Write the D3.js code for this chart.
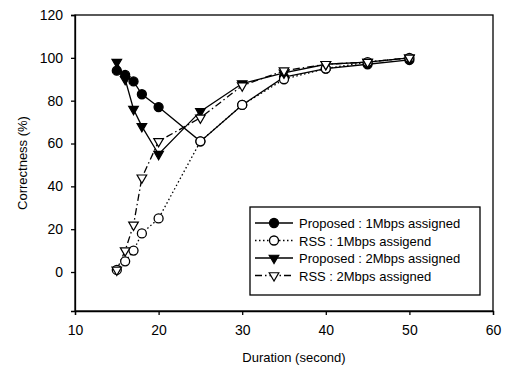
<!DOCTYPE html>
<html>
<head>
<meta charset="utf-8">
<script src="https://cdn.jsdelivr.net/npm/d3@7"></script>
<style>
  body { margin: 0; background: #fff; }
  svg { font-family: "Liberation Sans", Arial, sans-serif; }
</style>
</head>
<body>
<svg id="chart" width="505" height="371"></svg>
<script>
// durations (s)
const durations = [15, 16, 17, 18, 20, 25, 30, 35, 40, 45, 50];

// correctness (%) per series
const proposed1 = [94, 92, 89, 83, 77, 61, 78, 91, 95, 97, 99];
const rss1 = [1, 5, 10, 18, 25, 61, 78, 90, 95, 98, 100];
const proposed2 = [98, 90, 76, 68, 55, 75, 88, 93, 97, 98, 100];
const rss2 = [1, 10, 22, 44, 61, 72, 87, 94, 97, 98, 100];

const xTicks = [10, 20, 30, 40, 50, 60];
const yTicks = [0, 20, 40, 60, 80, 100, 120];

const seriesNames = [
    "Proposed : 1Mbps assigned",
    "RSS : 1Mbps assigend",
    "Proposed : 2Mbps assigned",
    "RSS : 2Mbps assigned"
];

const series = [
    { name: seriesNames[0], values: proposed1, marker: "circle", fill: "#000", dash: null },
    { name: seriesNames[1], values: rss1, marker: "circle", fill: "#fff", dash: "1.5,2.5" },
    { name: seriesNames[2], values: proposed2, marker: "tri", fill: "#000", dash: null },
    { name: seriesNames[3], values: rss2, marker: "tri", fill: "#fff", dash: "7,3,1.5,3" }
];

const svg = d3.select("#chart");
const margin = { top: 15, right: 12, bottom: 60, left: 75 };
const width = 505 - margin.left - margin.right;
const height = 371 - margin.top - margin.bottom;

const g = svg.append("g").attr("transform", "translate(" + margin.left + "," + margin.top + ")");

const x = d3.scaleLinear().domain([10, 60]).range([0, width]);
const y = d3.scaleLinear().domain([-18.2, 120]).range([height, 0]);

// frame
g.append("rect")
    .attr("width", width).attr("height", height)
    .attr("fill", "none").attr("stroke", "#000").attr("stroke-width", 1.3);

let xAxis = g.append("g")
    .attr("transform", "translate(0," + height + ")")
    .call(d3.axisBottom(x).tickValues(xTicks).tickSize(4).tickPadding(10));
let yAxis = g.append("g")
    .call(d3.axisLeft(y).tickValues(yTicks).tickSize(4).tickPadding(8));

for (let ax of [xAxis, yAxis]) {
    ax.select(".domain").attr("stroke-width", 1.3);
    ax.selectAll("line").attr("stroke-width", 1.3);
    ax.selectAll("text").attr("font-size", 14).attr("fill", "#000")
        .attr("font-family", "Liberation Sans, Arial, sans-serif");
}

// axis titles
svg.append("text")
    .attr("x", margin.left + width / 2 + 10).attr("y", 362)
    .attr("text-anchor", "middle").attr("font-size", 13)
    .text("Duration (second)");
svg.append("text")
    .attr("transform", "translate(27," + (margin.top + height / 2) + ") rotate(-90)")
    .attr("text-anchor", "middle").attr("font-size", 13)
    .text("Correctness (%)");

const tri = d3.symbol().type(d3.symbolTriangle).size(40);

function drawMarker(sel, s) {
    if (s.marker === "circle") {
        sel.append("circle").attr("r", 4.5)
            .attr("fill", s.fill).attr("stroke", "#000").attr("stroke-width", 1.3);
    } else {
        sel.append("path").attr("d", tri).attr("transform", function () {
            return d3.select(this.parentNode).attr("transform") ? "rotate(180)" : "rotate(180)";
        })
            .attr("fill", s.fill).attr("stroke", "#000").attr("stroke-width", 1.2);
    }
}

const line = d3.line().x((d, i) => x(durations[i])).y(d => y(d));

for (let s of series) {
    g.append("path")
        .attr("d", line(s.values))
        .attr("fill", "none").attr("stroke", "#000").attr("stroke-width", 1.3)
        .attr("stroke-dasharray", s.dash);
}
for (let s of series) {
    let pts = g.selectAll(null).data(s.values).enter().append("g")
        .attr("transform", (d, i) => "translate(" + x(durations[i]) + "," + y(d) + ")");
    drawMarker(pts, s);
}

// legend
const lg = svg.append("g").attr("transform", "translate(250,207)");
lg.append("rect").attr("width", 230).attr("height", 88)
    .attr("fill", "#fff").attr("stroke", "#000").attr("stroke-width", 1.3);
series.forEach((s, i) => {
    let row = lg.append("g").attr("transform", "translate(0," + (16 + i * 17.5) + ")");
    row.append("line").attr("x1", 5).attr("x2", 43).attr("y1", 0).attr("y2", 0)
        .attr("stroke", "#000").attr("stroke-width", 1.3).attr("stroke-dasharray", s.dash);
    let m = row.append("g").attr("transform", "translate(24,0)");
    drawMarker(m, s);
    row.append("text").attr("x", 49).attr("y", 5).attr("font-size", 13).text(s.name);
});
</script>
</body>
</html>
